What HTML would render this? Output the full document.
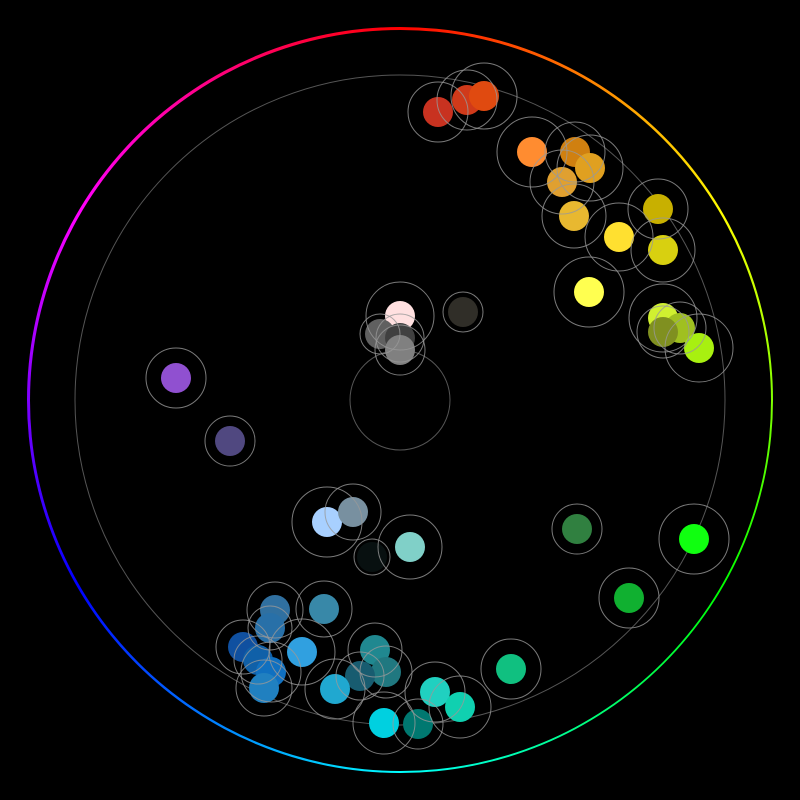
<!DOCTYPE html>
<html><head><meta charset="utf-8"><style>
html,body{margin:0;padding:0;background:#000;width:800px;height:800px;overflow:hidden}
#ring{position:absolute;left:27px;top:27px;width:746px;height:746px;border-radius:50%;
background:conic-gradient(from 0deg,hsl(0,100%,50%),hsl(30,100%,50%),hsl(60,100%,50%),hsl(90,100%,50%),hsl(120,100%,50%),hsl(150,100%,50%),hsl(180,100%,50%),hsl(210,100%,50%),hsl(240,100%,50%),hsl(270,100%,50%),hsl(300,100%,50%),hsl(330,100%,50%),hsl(360,100%,50%))}
#inner{position:absolute;left:29.5px;top:29.5px;width:741px;height:741px;border-radius:50%;background:#000}
svg{position:absolute;left:0;top:0}
</style></head><body>
<div id="ring"></div><div id="inner"></div>
<svg width="800" height="800" viewBox="0 0 800 800">
<g fill="none" stroke="#555" stroke-width="1">
<circle cx="400" cy="400" r="325"/>
<circle cx="400" cy="400" r="50"/>
</g>
<g id="d"></g>
</svg>
<script>
const D=[
[438,112,'#c83220',30],[467,100,'#d03a1a',30],[484,96,'#e04a10',33],
[532,152,'#ff8c30',35],[575,152,'#d08010',30],[590,168,'#e0a020',33],[562,182,'#e0a030',32],
[574,216,'#e8b830',32],[619,237,'#ffe030',34],[658,209,'#c8b000',30],[663,250,'#d8d010',32],
[589,292,'#ffff50',35],[663,318,'#d0f030',34],[680,328,'#a0c020',26],[663,332,'#809020',26],[699,348,'#a8f010',34],
[400,316,'#ffe0e0',34],[380,334,'#606060',20],[400,338,'#404040',24],[400,350,'#808080',25],[463,312,'#302e28',20],
[176,378,'#9050d0',30],[230,441,'#504880',25],
[327,522,'#a8d0ff',35],[353,512,'#7890a0',28],[372,557,'#081010',18],[410,547,'#80d0c8',32],
[577,529,'#308040',25],[694,539,'#10ff10',35],[629,598,'#10b030',30],
[275,610,'#3070a0',28],[324,609,'#3888a8',28],[270,628,'#2870a8',22],[243,647,'#1050a0',27],
[302,652,'#30a0e0',33],[258,660,'#1060a8',24],[271,672,'#1070c0',30],[264,688,'#2080c0',28],
[375,650,'#208890',27],[386,672,'#207880',26],[360,676,'#185c70',24],[335,689,'#20a8d0',30],
[511,669,'#10c080',30],[435,692,'#20d0c0',30],[460,707,'#10d0b0',31],[384,723,'#00d0e0',31],[418,724,'#007870',25]
];
let s='';
for(const [x,y,c,r] of D){s+=`<circle cx="${x}" cy="${y}" r="15" fill="${c}"/>`;}
for(const [x,y,c,r] of D){s+=`<circle cx="${x}" cy="${y}" r="${r}" fill="none" stroke="#999" stroke-opacity="0.8" stroke-width="1"/>`;}
document.getElementById('d').innerHTML=s;
</script>
</body></html>
